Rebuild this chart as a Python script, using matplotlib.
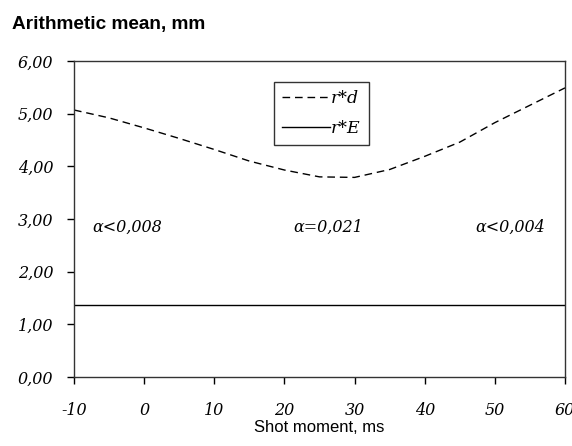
import matplotlib
matplotlib.use("Agg")
import matplotlib.pyplot as plt

# shot moment, ms
shot_ms = [-10, -5, 0, 5, 10, 15, 20, 25, 30, 35, 40, 45, 50, 55, 60]
# r*d arithmetic mean, mm
r_d = [5.07, 4.92, 4.73, 4.53, 4.32, 4.10, 3.93, 3.80, 3.79, 3.94, 4.19, 4.46, 4.83, 5.16, 5.49]
# r*E is constant
r_E = [1.37] * len(shot_ms)

x_ticks = [-10, 0, 10, 20, 30, 40, 50, 60]
y_ticks = [0, 1, 2, 3, 4, 5, 6]
alpha_notes = ["\u03b1<0,008", "\u03b1=0,021", "\u03b1<0,004"]
alpha_x = [-7.4, 21.2, 47.2]
alpha_y = [2.85, 2.85, 2.85]

serif_it = dict(family="DejaVu Serif", style="italic")

fig = plt.figure(figsize=(5.72, 4.46), dpi=100)
ax = fig.add_axes([0.1294, 0.1547, 0.8584, 0.7085])

ax.plot(shot_ms, r_d, color="black", lw=1.0, ls=(0, (5.5, 3.5)), label="r*d")
ax.plot(shot_ms, r_E, color="black", lw=1.0, label="r*E")

ax.set_xlim(-10, 60)
ax.set_ylim(0, 6)
ax.set_xticks(x_ticks)
ax.set_yticks(y_ticks)
ax.set_xticklabels([str(v) for v in x_ticks], fontdict=dict(size=11.5, weight="light", **serif_it))
ax.set_yticklabels([f"{v:.2f}".replace(".", ",") for v in y_ticks],
                   fontdict=dict(size=11.5, weight="light", **serif_it))
ax.tick_params(direction="out", length=5, width=1, color="black")
ax.tick_params(axis="x", pad=13)
ax.tick_params(axis="y", pad=10)
for s in ax.spines.values():
    s.set_color("#333333")
    s.set_linewidth(1.0)

for txt, xx, yy in zip(alpha_notes, alpha_x, alpha_y):
    ax.text(xx, yy, txt, fontsize=11.5, va="center", ha="left", **serif_it)

leg = ax.legend(loc="upper left", bbox_to_anchor=(0.407, 0.934), borderaxespad=0,
                frameon=True, fancybox=False, handlelength=2.8, handletextpad=0.05,
                borderpad=0.45, labelspacing=0.75,
                prop=dict(size=12.5, **serif_it))
leg.get_frame().set_edgecolor("black")
leg.get_frame().set_linewidth(1.0)

fig.text(0.021, 0.944, "Arithmetic mean, mm", fontsize=13.7, fontweight="bold",
         family="Liberation Sans", ha="left", va="center")
ax.set_xlabel("Shot moment, ms", fontsize=12, family="Liberation Sans", labelpad=1)

fig.savefig("out.png", dpi=100)
